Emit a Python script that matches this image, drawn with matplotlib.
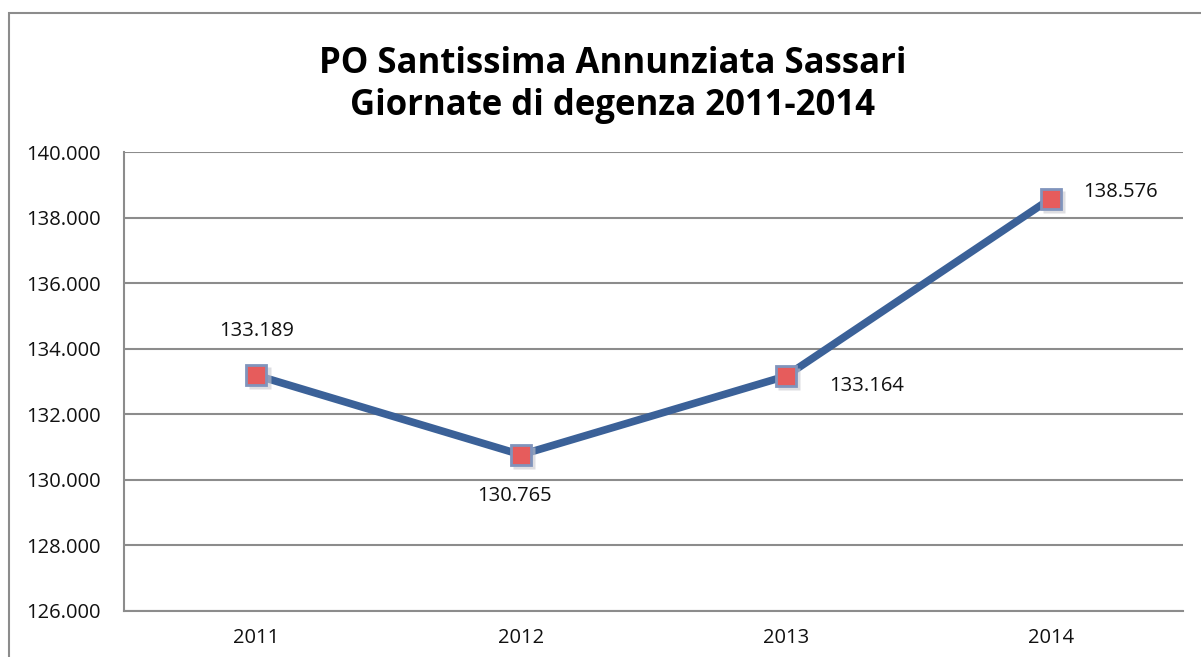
import numpy as np
import matplotlib as mpl
mpl.use('Agg')
import matplotlib.pyplot as plt
from matplotlib.patches import Rectangle
from matplotlib.ticker import FuncFormatter

anni = ['2011', '2012', '2013', '2014']
giornate = [133189, 130765, 133164, 138576]
etichette = ['133.189', '130.765', '133.164', '138.576']
titolo = 'PO Santissima Annunziata Sassari\nGiornate di degenza 2011-2014'

plt.rcParams['font.family'] = ['Open Sans', 'DejaVu Sans']

fig = plt.figure(figsize=(12.01, 6.57), dpi=100)
# cornice esterna del grafico
fig.patches.append(Rectangle((9/1201, -0.05), 1.1, (657-13)/657 + 0.05,
                             transform=fig.transFigure, fill=False,
                             edgecolor='#8c8c8c', lw=1.5))

ax = fig.add_axes([124/1201, 46/657, 1059/1201, 459/657])
x = np.arange(len(anni))

ax.plot(x, giornate, color='#3b6198', lw=5.5, solid_capstyle='butt', zorder=3)
# ombra dei marker
ax.plot(x + 0.012, np.array(giornate) - 90, ls='none', marker='s', ms=16,
        mfc='#c8c8d0', mec='none', alpha=0.6, zorder=3)
ax.plot(x, giornate, ls='none', marker='s', ms=15, mfc='#e65c5c',
        mec='#8094bc', mew=2, zorder=4)

offs = [(0, 32), (-5, -30), (58, -7), (50, 5)]
for xi, yi, lab, o in zip(x, giornate, etichette, offs):
    ax.annotate(lab, (xi, yi), xytext=o, textcoords='offset points',
                ha='center', va='center', fontsize=14.5, color='#111111')

ax.set_xlim(-0.5, 3.5)
ax.set_ylim(126000, 140000)
ax.set_yticks(np.arange(126000, 140001, 2000))
ax.yaxis.set_major_formatter(FuncFormatter(lambda v, p: f'{int(v):,}'.replace(',', '.')))
ax.set_xticks(x)
ax.set_xticklabels(anni)
ax.tick_params(axis='both', length=0, labelsize=14.5, colors='#111111')
ax.tick_params(axis='y', pad=17)
ax.tick_params(axis='x', pad=12)

ax.grid(axis='y', color='#8c8c8c', lw=1.5)
ax.set_axisbelow(True)
for s in ['top', 'right']:
    ax.spines[s].set_visible(False)
for s in ['left', 'bottom']:
    ax.spines[s].set_color('#8c8c8c')
    ax.spines[s].set_linewidth(1.5)

fig.text(0.510, 1 - 85/657, titolo, ha='center', va='center',
         fontsize=25, fontweight='bold', linespacing=1.25)

fig.savefig('out.png', dpi=100)
